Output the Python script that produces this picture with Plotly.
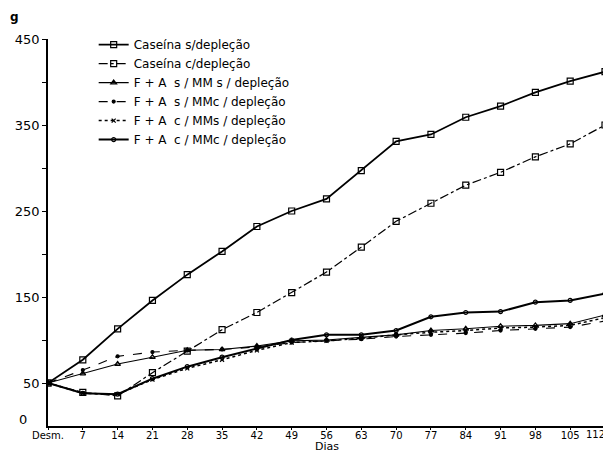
import plotly.graph_objects as go

days = [0, 7, 14, 21, 28, 35, 42, 49, 56, 63, 70, 77, 84, 91, 98, 105, 112]
day_labels = ["Desm.", "7", "14", "21", "28", "35", "42", "49", "56", "63", "70", "77", "84", "91", "98", "105", "112"]

caseina_s = [50, 77, 113, 146, 176, 203, 232, 250, 264, 297, 331, 339, 359, 372, 388, 401, 412]
caseina_c = [50, 39, 35, 62, 87, 112, 132, 155, 179, 208, 238, 259, 280, 295, 313, 328, 350]
fa_smm_s = [50, 61, 72, 80, 88, 89, 93, 99, 100, 103, 106, 111, 113, 116, 117, 119, 129]
fa_smm_c = [50, 65, 81, 86, 88, 89, 92, 97, 99, 101, 104, 106, 108, 111, 113, 115, 122]
fa_cmm_s = [50, 38, 37, 54, 67, 77, 88, 97, 99, 102, 106, 109, 111, 114, 115, 117, 126]
fa_cmm_c = [50, 38, 37, 55, 69, 80, 90, 100, 106, 106, 111, 127, 132, 133, 144, 146, 154]

y_tickvals = [50, 100, 150, 200, 250, 300, 350, 400, 450]
y_ticktext = ["50", "", "150", "", "250", "", "350", "", "450"]

series = [
    ("Caseína s/depleção", caseina_s, "solid", 1.8, "square-open", 6),
    ("Caseína c/depleção", caseina_c, "dashdot", 1.2, "square-open", 6),
    ("F + A  s / MM s / depleção", fa_smm_s, "solid", 1.1, "triangle-up-open", 5),
    ("F + A  s / MMc / depleção", fa_smm_c, "dash", 1.1, "circle", 3),
    ("F + A  c / MMs / depleção", fa_cmm_s, "dot", 1.5, "x-thin-open", 4),
    ("F + A  c / MMc / depleção", fa_cmm_c, "solid", 2.0, "circle-open", 4),
]

fig = go.Figure()
for name, vals, dash, w, sym, ms in series:
    fig.add_trace(go.Scatter(
        x=days, y=vals, name=name, mode="lines+markers",
        line=dict(color="black", width=w, dash=dash),
        marker=dict(symbol=sym, size=ms, color="black",
                    line=dict(color="black", width=1.2)),
    ))

# last x label sits at the very edge of the window: draw it right-anchored
x_ticktext = day_labels[:-1] + [""]

# page body has an 8px margin, so the figure is sized to fill the rest of the window
fig.update_layout(
    width=603, height=449,
    paper_bgcolor="white", plot_bgcolor="white",
    margin=dict(l=40, r=6, t=31, b=31, autoexpand=False),
    font=dict(family="DejaVu Sans", color="black", size=11),
    showlegend=True,
    legend=dict(x=0.082, y=1.023, xanchor="left", yanchor="top",
                bgcolor="rgba(0,0,0,0)", font=dict(size=12),
                tracegroupgap=0, itemwidth=30),
    xaxis=dict(range=[0, 112], tickvals=days, ticktext=x_ticktext,
               showgrid=False, zeroline=False, showline=True,
               linecolor="black", linewidth=1.5, ticks="outside",
               ticklen=2, tickcolor="black", automargin=False,
               ticklabelstandoff=-3,
               tickfont=dict(size=10)),
    yaxis=dict(range=[0, 450], tickvals=y_tickvals, ticktext=y_ticktext,
               showgrid=False, zeroline=False, showline=True,
               linecolor="black", linewidth=1.5, ticks="outside",
               ticklen=4, tickcolor="black", automargin=False,
               tickfont=dict(size=13)),
    annotations=[
        dict(text="<b>g</b>", xref="paper", yref="paper",
             x=-0.0715, y=1.057, xanchor="left", yanchor="middle",
             showarrow=False, font=dict(size=12)),
        dict(text="0", xref="paper", yref="paper",
             x=-0.035, y=0.018, xanchor="right", yanchor="middle",
             showarrow=False, font=dict(size=13)),
        dict(text=day_labels[-1], xref="paper", yref="paper",
             x=1.003, y=-0.023, xanchor="right", yanchor="middle",
             showarrow=False, font=dict(size=10)),
        dict(text="Dias", xref="paper", yref="paper",
             x=0.5, y=-0.052, xanchor="center", yanchor="middle",
             showarrow=False, font=dict(size=11)),
    ],
)

fig.write_html("out.html")
